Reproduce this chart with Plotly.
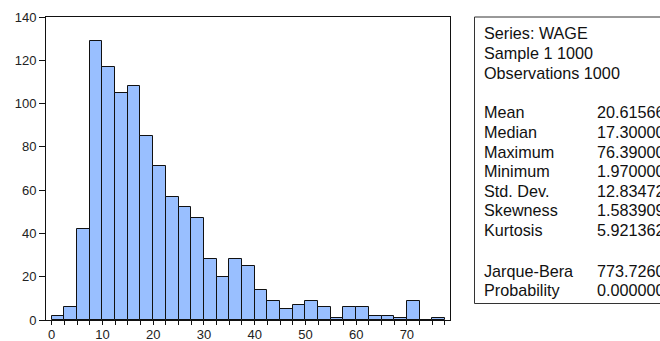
import plotly.graph_objects as go

# ---- data ----
bin_start = 0.0
bin_width = 2.5
counts = [2, 6, 42, 129, 117, 105, 108, 85, 71, 57, 52, 47, 28, 20, 28, 25,
          14, 9, 5, 7, 9, 6, 1, 6, 6, 2, 2, 1, 9, 0, 1]
x_tick_vals = [i * 2.5 for i in range(32)]
x_tick_text = [str(int(v)) if v % 10 == 0 else "" for v in x_tick_vals]
y_tick_vals = [0, 20, 40, 60, 80, 100, 120, 140]

header_lines = ["Series: WAGE", "Sample 1 1000", "Observations 1000"]
stat_names = ["Mean", "Median", "Maximum", "Minimum", "Std. Dev.", "Skewness", "Kurtosis"]
stat_values = ["20.61566", "17.30000", "76.39000", "1.970000", "12.83472", "1.583909", "5.921362"]
test_names = ["Jarque-Bera", "Probability"]
test_values = ["773.7260", "0.000000"]

centers = [bin_start + bin_width * (i + 0.5) for i in range(len(counts))]

W, H = 660, 341
L, R, T, B = 46, 450, 17, 320

def px(p):
    return (p - L) / (R - L)

def py(p):
    return (B - p) / (B - T)

fig = go.Figure()
fig.add_trace(go.Bar(
    x=centers, y=counts, width=bin_width,
    marker=dict(color="#99BFFF", line=dict(color="#111111", width=1)),
    hoverinfo="skip",
))

font_family = "Liberation Sans, Arial, sans-serif"
annotations = []

def add_text(text, xp, yp):
    annotations.append(dict(
        text=text, x=px(xp), y=py(yp), xref="paper", yref="paper",
        xanchor="left", yanchor="middle", showarrow=False,
        font=dict(family=font_family, size=16.2, color="#111111"),
    ))

ys_header = [33, 53, 73]
for t, yv in zip(header_lines, ys_header):
    add_text(t, 482, yv)
ys_stats = [112, 132, 151.5, 171, 190.5, 210, 230]
for n, v, yv in zip(stat_names, stat_values, ys_stats):
    add_text(n, 482, yv)
    add_text(v, 595, yv)
ys_test = [270.5, 289.5]
for n, v, yv in zip(test_names, test_values, ys_test):
    add_text(n, 482, yv)
    add_text(v, 595, yv)

fig.update_layout(
    width=W, height=H,
    margin=dict(l=L, r=W - R, t=T, b=H - B, pad=0, autoexpand=False),
    paper_bgcolor="white", plot_bgcolor="white",
    showlegend=False, bargap=0,
    annotations=annotations,
    shapes=[dict(type="rect", xref="paper", yref="paper",
                 x0=px(474.5), x1=px(700), y0=py(303.5), y1=py(17),
                 line=dict(color="#333333", width=1))],
    xaxis=dict(
        range=[-1.12, 78.5], tickmode="array", tickvals=x_tick_vals, ticktext=x_tick_text,
        ticks="outside", ticklen=4, tickcolor="#111111", tickwidth=1,
        showline=True, linecolor="#111111", linewidth=1, mirror=True,
        showgrid=False, zeroline=False, automargin=False,
        ticklabelstandoff=-2,
        tickfont=dict(family=font_family, size=13, color="#222222"),
        fixedrange=True,
    ),
    yaxis=dict(
        range=[0, 140], tickmode="array", tickvals=y_tick_vals,
        ticks="outside", ticklen=6, tickcolor="#111111", tickwidth=1,
        showline=True, linecolor="#111111", linewidth=1, mirror=True,
        showgrid=False, zeroline=False, automargin=False,
        tickfont=dict(family=font_family, size=13, color="#222222"),
        fixedrange=True,
    ),
)

fig.write_html(
    "out.html",
    config={"displayModeBar": False},
    post_script="document.body.style.margin='0';document.body.style.overflow='hidden';",
)
